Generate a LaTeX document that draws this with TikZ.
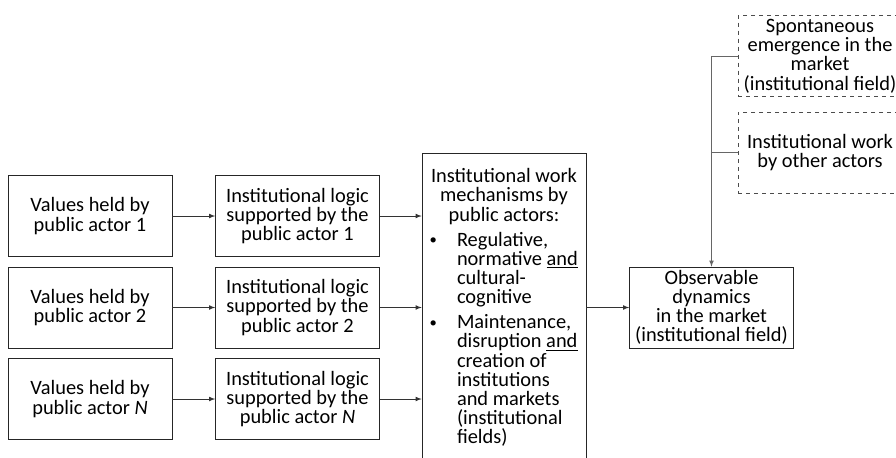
\documentclass[tikz,border=0pt]{standalone}
\usepackage{fontspec}
\setmainfont{Carlito}
\usepackage{enumitem}
\usetikzlibrary{shapes,arrows,positioning}
\tikzstyle{valueblock}=[rectangle, draw=black!85, align=center, minimum width=123pt, minimum height=60.75pt, inner sep=2pt]
\tikzstyle{dashblock}=[valueblock, dashed, draw=black!70]
\tikzstyle{link}=[-latex, draw=black!80, line width=0.6pt]
\newcommand{\smallbullet}{\raisebox{1.2pt}{\fontsize{11}{11}\selectfont\textbullet}}
\begin{document}
\begin{tikzpicture}[x=0.75pt, y=-0.75pt, every node/.style={font=\fontsize{15.3}{14.4}\selectfont}]

\clip (0,0) rectangle (896,457);

\node[valueblock](v1) at (90,216) {Values held by\\ public actor 1};
\node[valueblock](v2) at (90,307.5) {Values held by\\ public actor 2};
\node[valueblock](v3) at (90,399) {Values held by\\ public actor \textit{N}};
\node[valueblock](l1) at (297.5,216) {Institutional logic\\ supported by the\\ public actor 1};
\node[valueblock](l2) at (297.5,307.5) {Institutional logic\\ supported by the\\ public actor 2};
\node[valueblock](l3) at (297.5,399) {Institutional logic\\ supported by the\\ public actor \textit{N}};
\node[valueblock, anchor=north, inner sep=3pt](mech) at (504,153) {\begin{minipage}[t][239pt][t]{117pt}
\vspace*{8.5pt}
\centering Institutional work\\ mechanisms by\\ public actors:\par
\raggedright
\begin{itemize}[label=\smallbullet, leftmargin=23.25pt, labelsep=15pt, topsep=4.35pt, partopsep=0pt, itemsep=4.35pt, parsep=0pt]
\item Regulative,\\ normative \underline{and}\\ cultural-\\ cognitive
\item Maintenance,\\ disruption \underline{and}\\ creation of\\ institutions\\ and markets\\ (institutional\\ fields)
\end{itemize}
\end{minipage}};
\node[valueblock](obs) at (711.5,307.5) {Observable\\ dynamics\\ in the market\\ (institutional field)};
\node[dashblock](spont) at (820,56) {Spontaneous\\ emergence in the\\ market\\ (institutional field)};
\node[dashblock](other) at (820,152.5) {Institutional work\\ by other actors};

\draw[link](v1.east) -- (l1.west);
\draw[link](v2.east) -- (l2.west);
\draw[link](v3.east) -- (l3.west);
\draw[link](l1.east) -- (l1.east -| mech.west);
\draw[link](l2.east) -- (l2.east -| mech.west);
\draw[link](l3.east) -- (l3.east -| mech.west);
\draw[link](mech.east |- obs.west) -- (obs.west);
\draw[link,draw=black!60](spont.west) -| (obs.north);
\draw[draw=black!60,line width=0.6pt](other.west) -- (other.west -| obs.north);

\end{tikzpicture}
\end{document}
